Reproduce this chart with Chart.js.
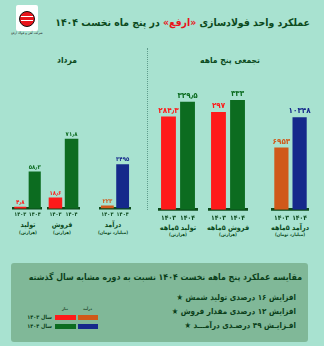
<!DOCTYPE html>
<html><head><meta charset="utf-8">
<script src="https://cdn.jsdelivr.net/npm/chart.js@4"></script>
<style>
html,body{margin:0;padding:0;}
body{width:324px;height:346px;background:#a8e2d0;position:relative;overflow:hidden;font-family:"DejaVu Sans Condensed","DejaVu Sans",sans-serif;color:#0c4a1d;}
.t{position:absolute;white-space:nowrap;font-weight:bold;line-height:1;}
.c{transform:translate(-50%,-50%);text-align:center;}
.r{transform:translateY(-50%);text-align:right;}
canvas{position:absolute;}
</style></head><body>

<!-- logo -->
<div style="position:absolute;left:16px;top:5px;width:22px;height:26px;background:#fff;border-radius:2px;"></div>
<div style="position:absolute;left:19px;top:11px;width:14px;height:14px;border-radius:50%;background:#e8141b;border:1.5px solid #111;"></div>
<div style="position:absolute;left:21px;top:16px;width:12px;height:1px;background:#fff;"></div>
<div style="position:absolute;left:21px;top:20px;width:12px;height:1px;background:#fff;"></div>
<div class="t c" dir="rtl" style="left:27px;top:34px;font-size:3.5px;font-weight:normal;color:#222;">شرکت آهن و فولاد ارفع</div>

<div class="t r" dir="rtl" style="right:14px;top:22px;font-size:10.4px;color:#0c4a1d;">عملکرد واحد فولادسازی <span style="color:#e8141b">«ارفع»</span> در پنج ماه نخست ۱۴۰۴</div>

<div class="t c" dir="rtl" style="left:67px;top:60px;font-size:8.5px;">مرداد</div>
<div class="t c" dir="rtl" style="left:230px;top:60px;font-size:8.5px;">تجمعی پنج ماهه</div>

<div style="position:absolute;left:147px;top:48px;width:0;height:162px;border-left:1px dotted #5f9c8c;"></div>

<div id="labels"></div>

<!-- bottom box -->
<div style="position:absolute;left:11px;top:263px;width:297px;height:79px;background:#80b898;border-radius:3px;"></div>
<div class="t r" dir="rtl" style="right:22px;top:277px;font-size:8.7px;color:#0b3f1a;">مقایسه عملکرد پنج ماهه نخست ۱۴۰۴ نسبت به دوره مشابه سال گذشته</div>
<div id="bullets"></div>

<div id="legend"></div>

<script>
// ---- data ----
const years = ['۱۴۰۳', '۱۴۰۴'];
const prodMonth = [4.8, 58.3];
const salesMonth = [18.6, 71.8];
const revMonth = [223, 3495];
const prod5 = [284.3, 329.5];
const sales5 = [297, 333];
const rev5 = [6953, 10348];
const namesMonth = ['تولید', 'فروش', 'درآمد'];
const names5 = ['تولید ۵ماهه', 'فروش ۵ماهه', 'درآمد ۵ماهه'];
const units = ['(هزارتن)', '(هزارتن)', '(میلیارد تومان)'];
const bullets = ['افزایش ۱۶ درصدی تولید شمش ★', 'افزایش ۱۲ درصدی مقدار فروش ★', 'افـزایـش ۴۹ درصـدی درآمـــد ★'];
const legendYears = ['سال ۱۴۰۳', 'سال ۱۴۰۴'];
const legendHeads = ['تناژ', 'درآمد'];

// ---- styles ----
const RED = '#fe1a1a', GREEN = '#0c6c20', ORANGE = '#d0591a', BLUE = '#15298b';
const tonColors = [RED, GREEN], revColors = [ORANGE, BLUE];
const FONT = '"DejaVu Sans Condensed", "DejaVu Sans"';

function fa(v) {
  return String(v).replace(/\d/g, d => '۰۱۲۳۴۵۶۷۸۹'[d]).replace('.', '٫');
}

const valueLabels = {
  id: 'valueLabels',
  afterDatasetsDraw(chart, args, o) {
    const ctx = chart.ctx;
    const ds = chart.data.datasets[0];
    chart.getDatasetMeta(0).data.forEach((bar, i) => {
      ctx.save();
      ctx.fillStyle = o.colors[i];
      ctx.font = 'bold ' + o.size + 'px ' + FONT;
      ctx.textAlign = 'center';
      ctx.textBaseline = 'bottom';
      ctx.fillText(fa(ds.data[i]), bar.x, bar.y - o.gap);
      ctx.restore();
    });
  }
};

function makeBar(left, top, w, h, values, colors, yMin, yMax, cfg) {
  const cv = document.createElement('canvas');
  cv.width = w; cv.height = h;
  cv.style.left = left + 'px'; cv.style.top = top + 'px';
  cv.style.width = w + 'px'; cv.style.height = h + 'px';
  document.body.appendChild(cv);
  new Chart(cv, {
    type: 'bar',
    data: { labels: years, datasets: [{ data: values, backgroundColor: colors, barPercentage: cfg.bp, categoryPercentage: 1 }] },
    options: {
      responsive: false, animation: false, devicePixelRatio: 1,
      layout: { padding: { top: cfg.padTop, left: 0, right: 0, bottom: 0 } },
      plugins: { legend: { display: false }, tooltip: { enabled: false },
        valueLabels: { size: cfg.valSize, colors: colors, gap: cfg.gap } },
      scales: {
        x: { z: 1, grid: { display: false, drawTicks: false },
             border: { display: true, color: '#0b4a1a', width: cfg.bw },
             ticks: { color: '#0c4a1d', font: { family: FONT, size: cfg.tickSize, weight: 'bold' },
                      padding: cfg.tickPad, maxRotation: 0, autoSkip: false } },
        y: { display: false, min: yMin, max: yMax }
      }
    },
    plugins: [valueLabels]
  });
}

const L = { bp: 0.84, padTop: 5.7, valSize: 6, gap: 1.5, bw: 2.5, tickSize: 5.5, tickPad: 2.5 };
const R = { bp: 0.78, padTop: 8.5, valSize: 8, gap: 2, bw: 2.7, tickSize: 6.8, tickPad: 4.5 };

makeBar(12, 75, 31, 145, prodMonth, tonColors, 2.4, 196, L);
makeBar(47, 75, 33, 145, salesMonth, tonColors, 8.85, 124.1, L);
makeBar(99, 75, 32, 145, revMonth, revColors, 0, 10100, L);
makeBar(157, 76, 42, 151, prod5, tonColors, 0, 382, R);
makeBar(207, 76, 42, 151, sales5, tonColors, 0, 380, R);
makeBar(270, 76, 41, 151, rev5, revColors, 0, 14000, R);

// group labels
const lab = document.getElementById('labels');
const leftCenters = [28, 62, 113], rightCenters = [178, 228, 290];
let html = '';
namesMonth.forEach((n, i) => {
  html += `<div class="t c" dir="rtl" style="left:${leftCenters[i]}px;top:225px;font-size:7px;">${n}</div>`;
  html += `<div class="t c" dir="rtl" style="left:${leftCenters[i]}px;top:232.5px;font-size:4.5px;">${units[i]}</div>`;
});
names5.forEach((n, i) => {
  html += `<div class="t c" dir="rtl" style="left:${rightCenters[i]}px;top:227.5px;font-size:7.2px;">${n}</div>`;
  html += `<div class="t c" dir="rtl" style="left:${rightCenters[i]}px;top:234.5px;font-size:4.5px;">${units[i]}</div>`;
});
lab.innerHTML = html;

const bl = document.getElementById('bullets');
const by = [298, 312, 326];
bl.innerHTML = bullets.map((b, i) => `<div class="t r" dir="rtl" style="right:28px;top:${by[i]}px;font-size:8px;color:#0b3f1a;">${b}</div>`).join('');

const lg = document.getElementById('legend');
let lh = '';
lh += `<div class="t c" dir="rtl" style="left:65px;top:308.5px;font-size:3.8px;color:#1d4a2a;">${legendHeads[0]}</div>`;
lh += `<div class="t c" dir="rtl" style="left:87.5px;top:308.5px;font-size:3.8px;color:#1d4a2a;">${legendHeads[1]}</div>`;
const ly = [317.5, 326.7];
const sw = [[RED, ORANGE], [GREEN, BLUE]];
legendYears.forEach((t, i) => {
  lh += `<div class="t r" dir="rtl" style="right:272px;top:${ly[i]}px;font-size:5.5px;color:#0b3f1a;">${t}</div>`;
  lh += `<div style="position:absolute;left:55px;top:${ly[i] - 2.5}px;width:21px;height:5px;background:${sw[i][0]};"></div>`;
  lh += `<div style="position:absolute;left:78px;top:${ly[i] - 2.5}px;width:20px;height:5px;background:${sw[i][1]};"></div>`;
});
lg.innerHTML = lh;
</script>
</body></html>
